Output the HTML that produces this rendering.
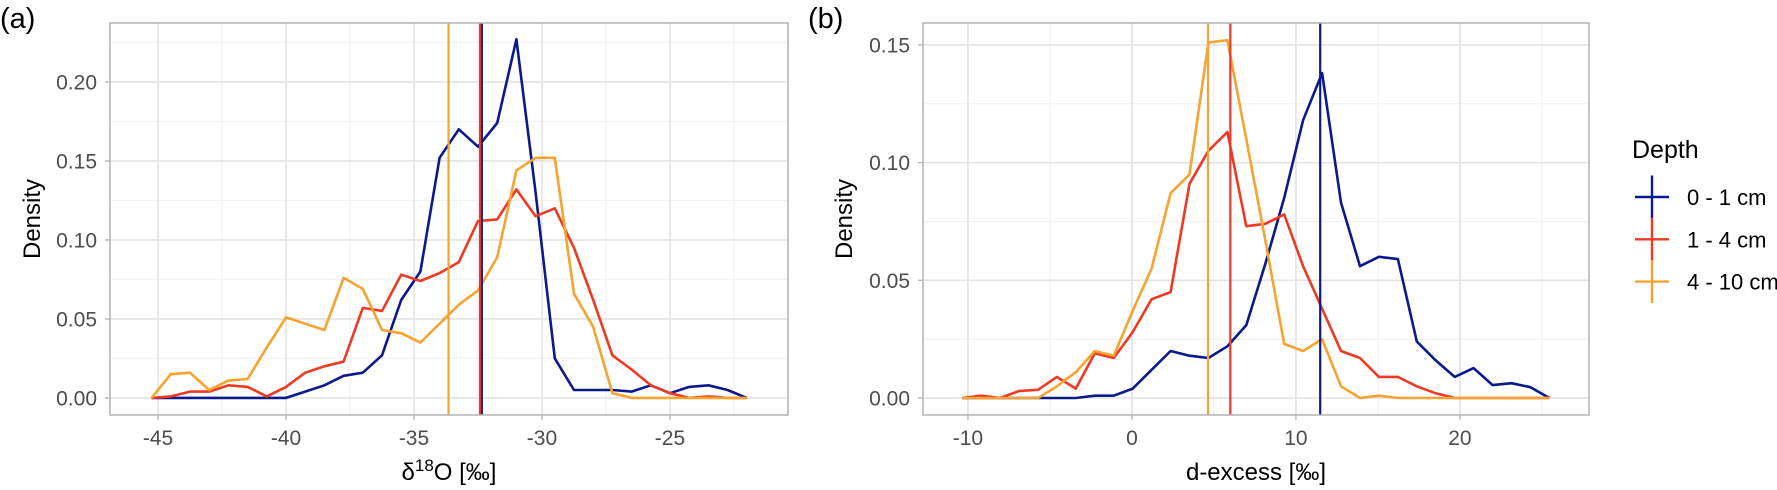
<!DOCTYPE html>
<html><head><meta charset="utf-8"><style>
body{margin:0;background:#fff;}
svg{display:block;font-family:"Liberation Sans",Arial,sans-serif;}
</style></head><body>
<svg id="c" width="1777" height="490" viewBox="0 0 1777 490" xmlns="http://www.w3.org/2000/svg"></svg>
<script>
// Panel (a) data
const aStart = -45.25, aStep = 0.75;
const aBlue = [0,0,0,0,0,0,0,0,0.004,0.008,0.014,0.016,0.027,0.062,0.080,0.152,0.170,0.159,0.174,0.227,0.13,0.025,0.005,0.005,0.005,0.004,0.008,0.003,0.007,0.008,0.005,0];
const aRed = [0,0.001,0.004,0.004,0.008,0.007,0.001,0.007,0.016,0.020,0.023,0.057,0.055,0.078,0.074,0.079,0.086,0.112,0.113,0.132,0.115,0.120,0.095,0.062,0.027,0.018,0.008,0.003,0,0.001,0,0];
const aOrange = [0,0.015,0.016,0.005,0.011,0.012,0.032,0.051,0.047,0.043,0.076,0.069,0.043,0.041,0.035,0.047,0.059,0.068,0.089,0.144,0.152,0.152,0.066,0.045,0.003,0,0,0,0,0,0,0];
const aMeans = [-32.35,-32.42,-33.65];
const aXTicks = [-45,-40,-35,-30,-25];
const aYTicks = [0,0.05,0.10,0.15,0.20];
// Panel (b) data
const bStart = -10.35, bStep = 1.155;
const bBlue = [0,0,0,0,0,0,0,0.001,0.001,0.004,0.012,0.020,0.018,0.017,0.022,0.031,0.057,0.085,0.118,0.138,0.083,0.056,0.060,0.059,0.024,0.016,0.009,0.0127,0.0055,0.0063,0.0046,0];
const bRed = [0,0.001,0,0.003,0.0035,0.009,0.004,0.019,0.017,0.028,0.042,0.045,0.091,0.105,0.113,0.073,0.074,0.078,0.056,0.038,0.020,0.017,0.009,0.009,0.005,0.002,0,0,0,0,0,0];
const bOrange = [0,0,0,0,0,0.005,0.011,0.020,0.018,0.037,0.055,0.087,0.095,0.151,0.152,0.11,0.067,0.023,0.020,0.025,0.005,0,0.001,0,0,0,0,0,0,0,0,0];
const bMeans = [11.48,6.0,4.64];
const bXTicks = [-10,0,10,20];
const bYTicks = [0,0.05,0.10,0.15];
const colors = ['#0a1a8c','#ee3a24','#f6a330'];
const names = ['0 - 1 cm','1 - 4 cm','4 - 10 cm'];
const NS='http://www.w3.org/2000/svg';
const svg=document.getElementById('c');
function mk(tag,attrs,parent){const e=document.createElementNS(NS,tag);for(const k in attrs)e.setAttribute(k,attrs[k]);(parent||svg).appendChild(e);return e;}

function panel(p){
  const g=mk('g',{});
  
  
  const sx=v=>p.L+(v-p.x0)/(p.x1-p.x0)*(p.R-p.L);
  const sy=v=>p.B-(v-p.y0)/(p.y1-p.y0)*(p.B-p.T);
  for(let i=0;i<p.xt.length+1;i++){const v=p.xt[0]+(i-0.5)*p.xs;const x=sx(v);if(x>p.L&&x<p.R){const l=mk('line',{x1:x,x2:x,y1:p.T,y2:p.B,stroke:'#f0f0f0','stroke-width':1},g);}}
  for(let i=0;i<p.yt.length+1;i++){const v=p.yt[0]+(i-0.5)*p.ys;const y=sy(v);if(y>p.T&&y<p.B){const l=mk('line',{x1:p.L,x2:p.R,y1:y,y2:y,stroke:'#f0f0f0','stroke-width':1},g);}}
  p.xt.forEach(v=>{const x=sx(v);
    const l=mk('line',{x1:x,x2:x,y1:p.T,y2:p.B,stroke:'#e3e3e3','stroke-width':1.6},g);
    mk('line',{x1:x,x2:x,y1:p.B,y2:p.B+5,stroke:'#b3b3b3','stroke-width':1.3},g);
    const t=mk('text',{x:x,y:p.B+30,'text-anchor':'middle','font-size':21,fill:'#4d4d4d'},g);t.textContent=v;
    });
  p.yt.forEach(v=>{const y=sy(v);
    const l=mk('line',{x1:p.L,x2:p.R,y1:y,y2:y,stroke:'#e3e3e3','stroke-width':1.6},g);
    mk('line',{x1:p.L-5,x2:p.L,y1:y,y2:y,stroke:'#b3b3b3','stroke-width':1.3},g);
    const t=mk('text',{x:p.L-13,y:y+7.5,'text-anchor':'end','font-size':21,fill:'#4d4d4d'},g);t.textContent=v.toFixed(2);
    });
  p.series.forEach((s,i)=>{
    const pts=s.map((v,k)=>sx(p.start+k*p.step).toFixed(1)+','+sy(v).toFixed(1)).join(' ');
    const pl=mk('polyline',{points:pts,fill:'none',stroke:colors[i],'stroke-width':2.6,'stroke-linejoin':'round'},g);
    
  });
  p.means.forEach((m,i)=>{const x=sx(m);
    const l=mk('line',{x1:x,x2:x,y1:p.T,y2:p.B,stroke:colors[i],'stroke-width':2.2},g);
    });
  const r=mk('rect',{x:p.L,y:p.T,width:p.R-p.L,height:p.B-p.T,fill:'none',stroke:'#b3b3b3','stroke-width':1.5},g);
  
  const xt=mk('text',{x:(p.L+p.R)/2,y:p.B+65,'text-anchor':'middle','font-size':24,fill:'#000'},g);
  xt.innerHTML=p.xtitle;
  const yt=mk('text',{x:0,y:0,'text-anchor':'middle','font-size':24,fill:'#000',transform:'translate('+p.ytx+','+(p.T+p.B)/2+') rotate(-90)'},g);
  yt.textContent='Density';
  const lb=mk('text',{x:p.labx,y:28,'font-size':29,fill:'#000'},g);lb.textContent=p.label;
  
}
panel({id:'a',L:110,R:788,T:23,B:415,x0:-46.875,x1:-20.39,y0:-0.0108,y1:0.2373,xt:aXTicks,yt:aYTicks,xs:5,ys:0.05,
  start:aStart,step:aStep,series:[aBlue,aRed,aOrange],means:aMeans,xtitle:'δ<tspan dy="-9" font-size="17">18</tspan><tspan dy="9">O [‰]</tspan>',ytx:40,labx:0,label:'(a)'});
panel({id:'b',L:923,R:1589,T:23,B:415,x0:-12.74,x1:27.87,y0:-0.0072,y1:0.1593,xt:bXTicks,yt:bYTicks,xs:10,ys:0.05,
  start:bStart,step:bStep,series:[bBlue,bRed,bOrange],means:bMeans,xtitle:'d-excess [‰]',ytx:852,labx:808,label:'(b)'});
const lg=mk('g',{});


const lt=mk('text',{x:1632,y:158,'font-size':25,fill:'#000'},lg);lt.textContent='Depth';

names.forEach((n,i)=>{const cy=197+i*42.3;
  const e=mk('g',{},lg);
  
  
  mk('line',{x1:1652,x2:1652,y1:cy-21.5,y2:cy+21.5,stroke:colors[i],'stroke-width':2.4},e);
  mk('line',{x1:1635,x2:1669,y1:cy,y2:cy,stroke:colors[i],'stroke-width':2.4},e);
  const t=mk('text',{x:1687,y:cy+8,'font-size':22,fill:'#000'},e);t.textContent=n;
});
</script>
</body></html>
